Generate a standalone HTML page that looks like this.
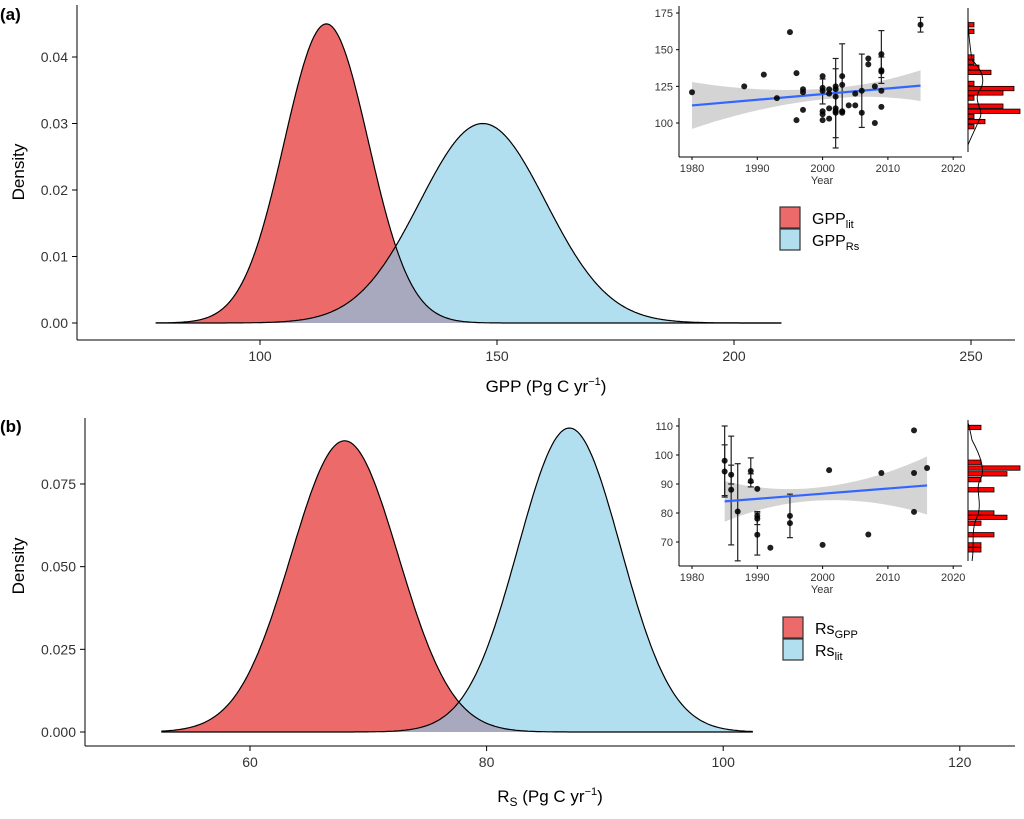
<!DOCTYPE html>
<html><head><meta charset="utf-8"><style>
body{margin:0;background:#fff}
svg{display:block;font-family:"Liberation Sans",Arial,sans-serif}
</style></head><body>
<svg id="s" width="1024" height="819" viewBox="0 0 1024 819" xmlns="http://www.w3.org/2000/svg">
<text x="0" y="20" font-size="17" font-weight="bold">(a)</text>
<text x="0" y="432" font-size="17" font-weight="bold">(b)</text>
<text transform="translate(24,172) rotate(-90)" font-size="17" text-anchor="middle">Density</text>
<text transform="translate(24,566) rotate(-90)" font-size="17" text-anchor="middle">Density</text>
<text x="546" y="392" font-size="17" text-anchor="middle">GPP (Pg C yr<tspan dy="-7" font-size="11">−1</tspan><tspan dy="7">)</tspan></text>
<text x="550" y="802" font-size="17" text-anchor="middle">R<tspan dy="4" font-size="12">S</tspan><tspan dy="-4"> (Pg C yr</tspan><tspan dy="-7" font-size="11">−1</tspan><tspan dy="7">)</tspan></text>
<g id="g"></g>
</svg>
<script>
const NS="http://www.w3.org/2000/svg",G=document.getElementById('g');
function el(t,a,txt){const e=document.createElementNS(NS,t);for(const k in a)e.setAttribute(k,a[k]);if(txt!=null)e.textContent=txt;G.appendChild(e);return e;}
function line(x1,y1,x2,y2,c,w){el('line',{x1,y1,x2,y2,stroke:c||'#000','stroke-width':w||1});}
function gauss(x,m,s){return Math.exp(-0.5*((x-m)/s)**2)/(s*Math.sqrt(2*Math.PI));}
function density(o){
 const {mr,sr,mb,sb,rr,rb,X,Y,base}=o;
 let pr=[],pb=[],po=[];
 for(let v=rr[0];v<=rr[1]+1e-9;v+=0.2)pr.push([X(v),Y(gauss(v,mr,sr))]);
 for(let v=rb[0];v<=rb[1]+1e-9;v+=0.2)pb.push([X(v),Y(gauss(v,mb,sb))]);
 for(let v=rr[0];v<=rb[1]+1e-9;v+=0.2)po.push([X(v),Y(Math.min(gauss(v,mr,sr),gauss(v,mb,sb)))]);
 const P=a=>'M'+a[0][0]+','+base+' L'+a.map(p=>p[0].toFixed(1)+','+p[1].toFixed(1)).join(' ')+' L'+a[a.length-1][0]+','+base+'Z';
 const L=a=>'M'+a.map(p=>p[0].toFixed(1)+','+p[1].toFixed(1)).join(' L');
 el('path',{d:P(pr),fill:'#ed6a6a'});el('path',{d:P(pb),fill:'#b1dff0'});el('path',{d:P(po),fill:'#a8a9bf'});
 el('path',{d:L(pr),fill:'none',stroke:'#000','stroke-width':1.2});el('path',{d:L(pb),fill:'none',stroke:'#000','stroke-width':1.2});
}
{const X=v=>260+(v-100)*4.74,Y=d=>323-d*6650;
density({mr:114,sr:8.87,mb:147,sb:13.3,rr:[78,210],rb:[78,210],X,Y,base:323});
line(77,5,77,340);line(77,340,1015,340);
[0,0.01,0.02,0.03,0.04].forEach(d=>{const y=Y(d);line(72,y,77,y);el('text',{x:68,y:y+5,'font-size':14,'text-anchor':'end',fill:'#333'},d.toFixed(2));});
[100,150,200,250].forEach(v=>{const x=X(v);line(x,340,x,345);el('text',{x,y:361,'font-size':14,'text-anchor':'middle',fill:'#333'},v);});}
{const X=v=>250+(v-60)*11.83,Y=d=>732-d*3307;
density({mr:68,sr:4.53,mb:87,sb:4.34,rr:[52.5,102.5],rb:[52.5,102.5],X,Y,base:732});
line(85,418,85,746);line(85,746,1015,746);
[0,0.025,0.05,0.075].forEach(d=>{const y=Y(d);line(80,y,85,y);el('text',{x:76,y:y+5,'font-size':14,'text-anchor':'end',fill:'#333'},d.toFixed(3));});
[60,80,100,120].forEach(v=>{const x=X(v);line(x,746,x,751);el('text',{x,y:767,'font-size':14,'text-anchor':'middle',fill:'#333'},v);});}
function inset(o){
 const X=y=>692+(y-1980)*6.53,Y=v=>o.y0+(v-o.v0)*o.k;
 const r=o.rib;let up=[],dn=[];
 for(let i=0;i<=20;i++){const t=i/20,yr=r.a+(r.b-r.a)*t;const mid=r.la+(r.lb-r.la)*t;
  const xc=r.c;const hw=r.wm+((yr-xc)/((yr<xc)?(r.a-xc):(r.b-xc)))**2*((yr<xc)?r.wa-r.wm:r.wb-r.wm);
  up.push([X(yr),Y(mid+hw)]);dn.push([X(yr),Y(mid-hw)]);}
 el('path',{d:'M'+up.map(p=>p.join(',')).join(' L')+' L'+dn.reverse().map(p=>p.join(',')).join(' L')+'Z',fill:'#d4d4d4'});
 o.err.forEach(e=>{const x=X(e[0]);line(x,Y(e[1]),x,Y(e[2]),'#222',1.2);line(x-3,Y(e[1]),x+3,Y(e[1]),'#222',1.2);line(x-3,Y(e[2]),x+3,Y(e[2]),'#222',1.2);});
 line(X(r.a),Y(r.la),X(r.b),Y(r.lb),'#3366ff',2.2);
 o.pts.forEach(p=>el('circle',{cx:X(p[0]),cy:Y(p[1]),r:3,fill:'#000','fill-opacity':0.88}));
 line(679,o.top,679,o.bot);line(679,o.bot,962,o.bot);
 [1980,1990,2000,2010,2020].forEach(yr=>{const x=X(yr);line(x,o.bot,x,o.bot+3);el('text',{x,y:o.bot+15,'font-size':11,'text-anchor':'middle',fill:'#333'},yr);});
 o.ticks.forEach(v=>{const y=Y(v);line(676,y,679,y);el('text',{x:673,y:y+4,'font-size':11,'text-anchor':'end',fill:'#333'},v);});
 el('text',{x:822,y:o.bot+27,'font-size':11,'text-anchor':'middle',fill:'#333'},'Year');
 o.hist.forEach(h=>{el('rect',{x:968,y:Y(h[0])-2.2,width:h[1],height:4.4,fill:'#f00',stroke:'#000','stroke-width':0.8});});
 line(968,o.top+2,968,o.bot-5);
 el('path',{d:o.kde,fill:'none',stroke:'#000','stroke-width':0.9});
}
inset({y0:13,v0:175,k:-1.467,top:6,bot:157,ticks:[100,125,150,175],
 rib:{a:1980,b:2015,la:112,lb:125.5,c:2002,wm:3.5,wa:16,wb:10.5},
 err:[[2000,113,130],[2002,83,144],[2002,90,137],[2003,108,154],[2006,97,147],[2009,127,163],[2009,131,145],[2015,162,172]],
 pts:[[1980,121],[1988,125],[1991,133],[1993,117],[1995,162],[1996,134],[1996,102],[1997,123],[1997,121],[1997,109],[2000,132],[2000,124],[2000,122],[2000,108],[2000,106],[2000,102],[2001,123],[2001,120],[2001,110],[2001,103],[2002,125],[2002,123],[2002,118],[2002,110],[2002,108],[2002,107],[2003,132],[2003,126],[2003,108],[2003,107],[2004,112],[2005,120],[2005,112],[2006,107],[2006,122],[2007,144],[2007,140],[2008,125],[2008,100],[2009,147],[2009,136],[2009,135],[2009,122],[2009,111],[2015,167]],
 hist:[[167,6],[162.5,6],[145,6],[141.5,6],[138,11],[134.5,23],[127,6],[123.5,46],[120.5,35],[117,6],[111.5,35],[108,52],[104.5,6],[101,17],[97.5,6]],
 kde:'M968,145 C972,135 975,130 980,118 C984,110 972,100 980,90 C986,80 982,70 972,60 C969,40 968,25 968,15'});
inset({y0:426,v0:110,k:-2.9,top:418,bot:566,ticks:[70,80,90,100,110],
 rib:{a:1985,b:2016,la:84,lb:89.5,c:1998,wm:2.2,wa:7,wb:10},
 err:[[1985,85.5,110],[1985,86,103.5],[1986,69,106.5],[1986,90,96.5],[1987,63.5,97],[1989,89,99],[1989,90.5,93.5],[1990,65.5,80.5],[1990,76,80],[1995,71.5,86.5]],
 pts:[[1985,98],[1985,94.3],[1986,93.2],[1986,88],[1987,80.5],[1989,94.5],[1989,91],[1990,88.3],[1990,79],[1990,78],[1990,72.5],[1992,68],[1995,79],[1995,76.5],[2000,69],[2001,94.8],[2007,72.6],[2009,93.8],[2014,108.5],[2014,93.8],[2014,80.4],[2016,95.5]],
 hist:[[109.5,13],[97.5,13],[95.5,52],[93.5,39],[91.5,13],[88,26],[80,26],[78.5,39],[76.5,13],[72.5,26],[69,13],[67.3,13]],
 kde:'M972,561 C975,545 970,530 978,515 C982,500 975,490 980,480 C986,470 980,455 972,440 C970,430 969,425 968,423'});
function legend(x,y,a,b,sa,sb){
 el('rect',{x,y,width:20,height:21,fill:'#ed6a6a',stroke:'#333','stroke-width':1.2});
 el('rect',{x,y:y+22,width:20,height:21,fill:'#b1dff0',stroke:'#333','stroke-width':1.2});
 const t1=el('text',{x:x+32,y:y+17,'font-size':16});t1.innerHTML=a+'<tspan dy="4" font-size="11">'+sa+'</tspan>';
 const t2=el('text',{x:x+32,y:y+39,'font-size':16});t2.innerHTML=b+'<tspan dy="4" font-size="11">'+sb+'</tspan>';
}
legend(780,207,'GPP','GPP','lit','Rs');
legend(783,617,'Rs','Rs','GPP','lit');
</script>
</body></html>
